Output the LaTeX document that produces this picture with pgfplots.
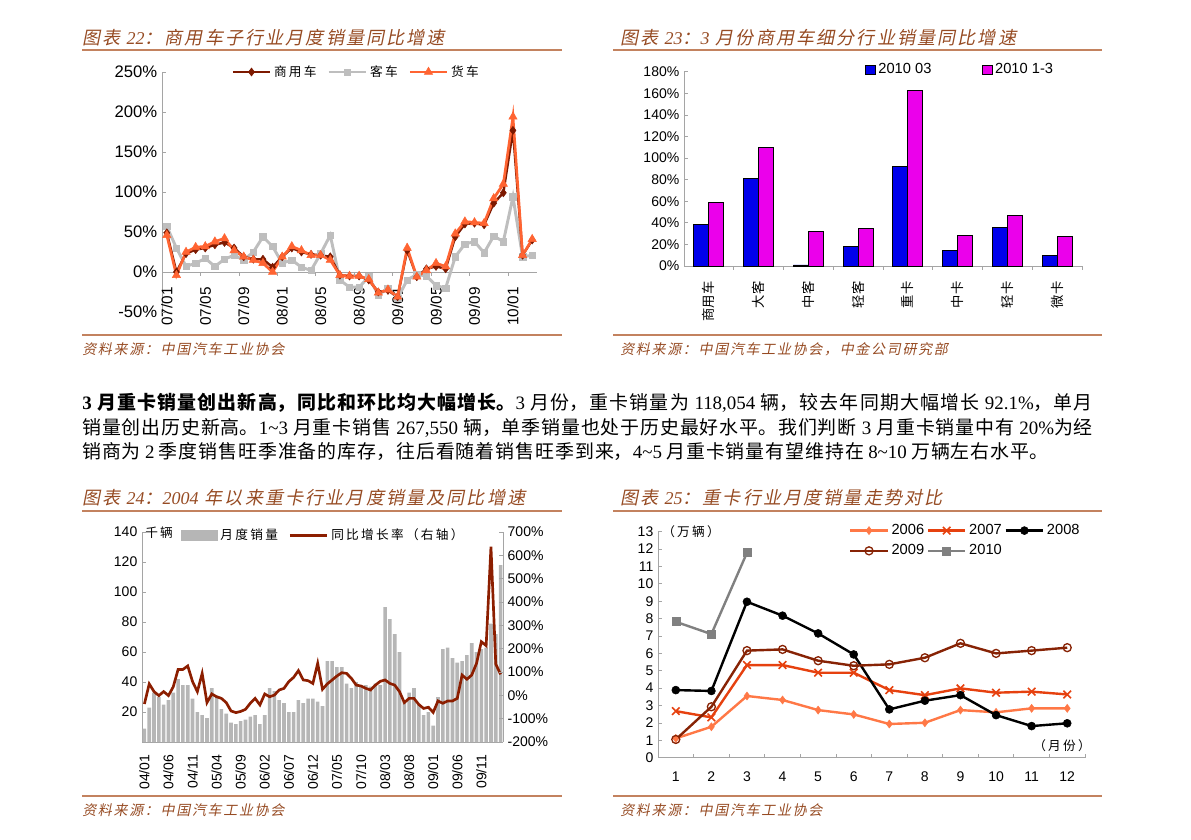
\documentclass[border=0pt]{standalone}
\usepackage{fontspec}
\usepackage{pgfplots}
\pgfplotsset{compat=1.18}
\setmainfont{Liberation Sans}
\newfontfamily\cjk{Noto Sans CJK SC}
\newfontfamily\cjks{Noto Sans CJK SC}[LetterSpace=18]
\newfontfamily\ttl{Noto Sans CJK SC}[FakeSlant=0.2,LetterSpace=12]
\newfontfamily\tnr{Liberation Serif}
\newcommand\tld{{\char"007E}}
\XeTeXlinebreaklocale "zh"
\XeTeXlinebreakskip=0pt plus 1.5pt
\definecolor{ttlc}{RGB}{150,75,35}
\definecolor{rulec}{RGB}{195,130,95}
\definecolor{axc}{RGB}{165,165,165}
\definecolor{c1dark}{RGB}{125,25,0}
\definecolor{c1gray}{RGB}{190,190,190}
\definecolor{c1orange}{RGB}{255,100,50}
\definecolor{c2blue}{RGB}{0,0,235}
\definecolor{c2mag}{RGB}{235,0,235}
\definecolor{c3bar}{RGB}{182,182,182}
\definecolor{c3line}{RGB}{140,30,0}
\definecolor{y2006}{RGB}{255,120,70}
\definecolor{y2007}{RGB}{230,65,15}
\definecolor{y2009}{RGB}{135,35,5}
\definecolor{y2010}{RGB}{128,128,128}
\pgfplotsset{
  base/.style={scale only axis, axis line style={draw=axc}, major tick length=0pt, clip=false,
    /pgf/number format/assume math mode=true},
  lineleg/.style={legend image code/.code={\draw[mark repeat=2,mark phase=2,##1] plot coordinates {(0pt,0pt) (14pt,0pt) (28pt,0pt)};}},
  sqleg/.style={legend image code/.code={\draw[##1] (0pt,-3.6pt) rectangle (7.2pt,3.6pt);}},
  plainleg/.style={legend image code/.code={\draw[##1] (0pt,0pt) -- (28pt,0pt);}},
  barleg/.style={legend image code/.code={\fill[c3bar] (0pt,-4pt) rectangle (27pt,4pt);}},
}
\tikzset{tk/.style={draw=axc,line width=0.6pt}}
\begin{document}
\begin{tikzpicture}[x=0.75pt,y=-0.75pt]
\useasboundingbox (0,0) rectangle (1191,839);
\coordinate (A1) at (162,312);
\coordinate (A2) at (684,266);
\coordinate (A3) at (142,742);
\coordinate (A4) at (658,757.7);
% ---------- titles, rules, sources ----------
\node[anchor=base west,inner sep=0,text=ttlc,font=\ttl\fontsize{13.5}{14}\selectfont] at (82,44) {图表 {\tnr\itshape 22}：商用车子行业月度销量同比增速};
\node[anchor=base west,inner sep=0,text=ttlc,font=\ttl\fontsize{13.5}{14}\selectfont] at (620,44) {图表 {\tnr\itshape 23}：{\tnr\itshape 3} 月份商用车细分行业销量同比增速};
\node[anchor=base west,inner sep=0,text=ttlc,font=\ttl\fontsize{13.5}{14}\selectfont] at (82,504) {图表 {\tnr\itshape 24}：{\tnr\itshape 2004} 年以来重卡行业月度销量及同比增速};
\node[anchor=base west,inner sep=0,text=ttlc,font=\ttl\fontsize{13.5}{14}\selectfont] at (620,504) {图表 {\tnr\itshape 25}：重卡行业月度销量走势对比};
\draw[rulec,line width=1.3pt] (82,50)--(562,50) (613,50)--(1102,50) (82,335)--(562,335) (613,335)--(1102,335);
\draw[rulec,line width=1.3pt] (82,511)--(562,511) (613,511)--(1102,511) (82,796)--(562,796) (613,796)--(1102,796);
\node[anchor=base west,inner sep=0,text=ttlc,font=\ttl\fontsize{10.5}{11}\selectfont] at (82,354) {资料来源：中国汽车工业协会};
\node[anchor=base west,inner sep=0,text=ttlc,font=\ttl\fontsize{10.5}{11}\selectfont] at (620,354) {资料来源：中国汽车工业协会，中金公司研究部};
\node[anchor=base west,inner sep=0,text=ttlc,font=\ttl\fontsize{10.5}{11}\selectfont] at (82,815) {资料来源：中国汽车工业协会};
\node[anchor=base west,inner sep=0,text=ttlc,font=\ttl\fontsize{10.5}{11}\selectfont] at (620,815) {资料来源：中国汽车工业协会};
% ---------- paragraph ----------
\node[anchor=north west,inner sep=0,text width=758pt,align=justify,font=\cjk\fontsize{14.2}{18.4}\selectfont] at (82,393) {%
{\bfseries{\tnr 3} 月重卡销量创出新高，同比和环比均大幅增长。}{\tnr 3} 月份，重卡销量为 {\tnr 118,054} 辆，较去年同期大幅增长 {\tnr 92.1\%}，单月\linebreak
销量创出历史新高。{\tnr 1\tld3} 月重卡销售 {\tnr 267,550} 辆，单季销量也处于历史最好水平。我们判断 {\tnr 3} 月重卡销量中有 {\tnr 20\%}为经\linebreak
\XeTeXlinebreakskip=0.7pt plus 1pt 销商为 {\tnr 2} 季度销售旺季准备的库存，往后看随着销售旺季到来，{\tnr 4\tld5} 月重卡销量有望维持在 {\tnr 8\tld10} 万辆左右水平。};
% ---------- chart 22 ----------
\begin{axis}[base, at={(A1)}, anchor=south west, width=281.25pt, height=180pt,
  xmin=-0.5, xmax=38.5, ymin=-50, ymax=250,
  axis y line*=left, axis x line=middle, x axis line style={-},
  ytick={-50,0,50,100,150,200,250}, yticklabels={-50\%,0\%,50\%,100\%,150\%,200\%,250\%},
  yticklabel style={font=\fontsize{12.5}{13}\selectfont},
  xtick={0,4,...,36}, xticklabels={07/01,07/05,07/09,08/01,08/05,08/09,09/01,09/05,09/09,10/01},
  xticklabel shift=8pt,
  xticklabel style={rotate=90, anchor=east, font=\fontsize{11.5}{12}\selectfont},
  lineleg, legend columns=-1,
  legend style={draw=none, fill=none, at={(axis description cs:0.185,1)}, anchor=west, inner sep=0pt,
    font=\cjks\fontsize{9.5}{10}\selectfont, /tikz/every even column/.append style={column sep=6pt}},
]
\addplot[c1gray, line width=2.2pt, mark=square*, mark size=2.4pt, mark options={solid,line width=0.4pt}, forget plot] coordinates {
(0,57)(1,30)(2,7)(3,11)(4,17)(5,7)(6,16)(7,21)(8,15)(9,25)(10,44)(11,32)(12,11)(13,15)(14,6)(15,2)(16,23)(17,46)(18,-10)(19,-19)(20,-19)(21,-6)(22,-29)(23,-20)(24,-33)(25,-10)(26,-3)(27,-5)(28,-17)(29,-20)(30,19)(31,35)(32,38)(33,24)(34,45)(35,38)(36,94)(37,19)(38,21)};
\addplot[c1dark, line width=1.8pt, mark=diamond*, mark size=3pt, mark options={solid,line width=0.4pt}, forget plot] coordinates {
(0,49)(1,0)(2,23)(3,28)(4,30)(5,34)(6,37)(7,30)(8,19)(9,16)(10,16)(11,6)(12,19)(13,30)(14,25)(15,22)(16,21)(17,19)(18,-4)(19,-5)(20,-5)(21,-10)(22,-25)(23,-23)(24,-31)(25,27)(26,-6)(27,4)(28,7)(29,4)(30,44)(31,60)(32,61)(33,59)(34,86)(35,99)(36,177)(37,21)(38,40)};
\addplot[c1orange, line width=2pt, mark=triangle*, mark size=3.6pt, mark options={solid,line width=0.4pt}, forget plot] coordinates {
(0,46)(1,-4)(2,25)(3,31)(4,32)(5,38)(6,42)(7,27)(8,19)(9,15)(10,11)(11,0)(12,19)(13,32)(14,27)(15,21)(16,21)(17,15)(18,-4)(19,-5)(20,-5)(21,-9)(22,-26)(23,-22)(24,-31)(25,30)(26,-6)(27,2)(28,11)(29,7)(30,48)(31,63)(32,62)(33,61)(34,92)(35,110)(36,194)(37,21)(38,41)};
\addlegendimage{c1dark, line width=1.8pt, mark=diamond*, mark size=3pt, mark options={solid,line width=0.4pt}}
\addlegendentry{商用车}
\addlegendimage{c1gray, line width=2.2pt, mark=square*, mark size=2.4pt, mark options={solid,line width=0.4pt}}
\addlegendentry{客车}
\addlegendimage{c1orange, line width=2pt, mark=triangle*, mark size=3.6pt, mark options={solid,line width=0.4pt}}
\addlegendentry{货车}
\pgfplotsinvokeforeach{-0.5,3.5,7.5,11.5,15.5,19.5,23.5,27.5,31.5,35.5}{\draw[tk] (axis cs:#1,0) -- ++(0pt,-3pt);}
\pgfplotsinvokeforeach{-50,0,50,100,150,200,250}{\draw[tk] (axis cs:-0.5,#1) -- ++(3pt,0pt);}
\end{axis}
% ---------- chart 23 ----------
\begin{axis}[base, at={(A2)}, anchor=south west, width=298.5pt, height=145.7pt,
  xmin=-0.5, xmax=7.5, ymin=0, ymax=180,
  axis y line*=left, axis x line*=bottom,
  ybar=0pt, bar width=11.25pt,
  xtick={0,...,7}, xticklabels={商用车,大客,中客,轻客,重卡,中卡,轻卡,微卡},
  xticklabel shift=8pt,
  xticklabel style={rotate=90, anchor=east, font=\cjk\fontsize{10}{10}\selectfont},
  ytick={0,20,...,180}, yticklabels={0\%,20\%,40\%,60\%,80\%,100\%,120\%,140\%,160\%,180\%},
  yticklabel style={font=\fontsize{10.5}{11}\selectfont},
  legend columns=-1,
  legend style={draw=none, fill=none, at={(axis description cs:0.455,1.01)}, anchor=west, inner sep=0pt,
    font=\fontsize{11}{11}\selectfont, /tikz/every even column/.append style={column sep=36pt}},
]
\addplot[fill=c2blue, draw=black, line width=0.6pt, sqleg] coordinates {(0,38.6)(1,80.9)(2,1)(3,18.5)(4,92.3)(5,14.8)(6,36.1)(7,9.9)};
\addlegendentry{2010 03}
\addplot[fill=c2mag, draw=black, line width=0.6pt, sqleg] coordinates {(0,58.6)(1,109.9)(2,32.4)(3,34.9)(4,162.3)(5,28.7)(6,47.2)(7,27.2)};
\addlegendentry{2010 1-3}
\pgfplotsinvokeforeach{0.5,1.5,2.5,3.5,4.5,5.5,6.5,7.5}{\draw[tk] (axis cs:#1,0) -- ++(0pt,-3pt);}
\pgfplotsinvokeforeach{0,20,40,60,80,100,120,140,160,180}{\draw[tk] (axis cs:-0.5,#1) -- ++(3pt,0pt);}
\end{axis}
% ---------- chart 24 ----------
\begin{axis}[base, at={(A3)}, anchor=south west, width=270.75pt, height=157.5pt,
  xmin=-0.5, xmax=74.5, ymin=0, ymax=140,
  axis y line*=left, axis x line*=bottom,
  ytick={20,40,...,140}, yticklabel style={font=\fontsize{10.5}{11}\selectfont},
  xtick={0,5,...,70}, xticklabels={04/01,04/06,04/11,05/04,05/09,06/02,06/07,06/12,07/05,07/10,08/03,08/08,09/01,09/06,09/11},
  xticklabel shift=6pt,
  xticklabel style={rotate=90, anchor=east, font=\fontsize{10.5}{11}\selectfont},
  ybar, bar width=2.7pt,
]
\addplot[fill=c3bar, draw=none] coordinates {
(0,9)(1,23)(2,33)(3,30)(4,25)(5,28)(6,33)(7,42)(8,38)(9,38)(10,29)(11,20)
(12,18)(13,16)(14,36)(15,31)(16,22)(17,19)(18,13)(19,12)(20,14)(21,15)(22,17)(23,18)
(24,12)(25,18)(26,36)(27,34)(28,28)(29,26)(30,20)(31,20)(32,28)(33,26)(34,29)(35,29)
(36,27)(37,24)(38,54)(39,54)(40,50)(41,50)(42,39)(43,36)(44,40)(45,38)(46,38)(47,37)
(48,39)(49,38)(50,90)(51,82)(52,72)(53,60)(54,28)(55,33)(56,36)(57,25)(58,18)(59,20)
(60,11)(61,30)(62,62)(63,63)(64,56)(65,53)(66,54)(67,58)(68,66)(69,60)(70,62)(71,63)
(72,79)(73,72)(74,118)};
\pgfplotsinvokeforeach{20,40,60,80,100,120,140}{\draw[tk] (axis cs:-0.5,#1) -- ++(3pt,0pt);}
\end{axis}
\begin{axis}[base, at={(A3)}, anchor=south west, width=270.75pt, height=157.5pt,
  xmin=-0.5, xmax=74.5, ymin=-200, ymax=700,
  axis y line*=right, axis x line=none,
  ytick={-200,-100,...,700}, yticklabels={-200\%,-100\%,0\%,100\%,200\%,300\%,400\%,500\%,600\%,700\%},
  yticklabel style={font=\fontsize{10.5}{11}\selectfont},
  legend columns=-1,
  legend style={draw=none, fill=none, at={(axis description cs:0.108,0.985)}, anchor=west, inner sep=0pt,
    font=\cjks\fontsize{9.5}{10}\selectfont, /tikz/every even column/.append style={column sep=6pt}},
]
\addlegendimage{barleg}
\addlegendentry{月度销量}
\addplot[c3line, line width=2pt, plainleg] coordinates {
(0,-37)(1,49)(2,16)(3,-1)(4,16)(5,-1)(6,37)(7,111)(8,111)(9,126)(10,59)(11,16)
(12,94)(13,-31)(14,6)(15,-6)(16,-13)(17,-31)(18,-67)(19,-74)(20,-69)(21,-60)(22,-34)(23,-13)
(24,-41)(25,6)(26,-6)(27,1)(28,23)(29,30)(30,59)(31,77)(32,106)(33,66)(34,63)(35,51)
(36,137)(37,26)(38,49)(39,66)(40,83)(41,97)(42,94)(43,73)(44,44)(45,40)(46,30)(47,23)
(48,44)(49,60)(50,66)(51,51)(52,44)(53,16)(54,-31)(55,-13)(56,-13)(57,-39)(58,-56)(59,-51)
(60,-73)(61,-24)(62,-34)(63,-24)(64,-24)(65,-13)(66,87)(67,69)(68,87)(69,137)(70,230)(71,213)
(72,637)(73,134)(74,90)};
\addlegendentry{同比增长率（右轴）}
\pgfplotsinvokeforeach{-100,0,100,200,300,400,500,600,700}{\draw[tk] (axis cs:74.5,#1) -- ++(-3pt,0pt);}
\end{axis}
\node[anchor=west,inner sep=0,font=\cjks\fontsize{9.5}{10}\selectfont] at (145,533) {千辆};
% ---------- chart 25 ----------
\begin{axis}[base, at={(A4)}, anchor=south west, width=320.25pt, height=169.5pt,
  xmin=0.5, xmax=12.5, ymin=0, ymax=13,
  axis y line*=left, axis x line*=bottom,
  xtick={1,...,12}, xticklabel shift=7pt,
  ytick={0,1,...,13},
  ticklabel style={font=\fontsize{10.5}{11}\selectfont},
  lineleg, legend columns=3,
  legend style={draw=none, fill=none, at={(axis description cs:0.447,1.045)}, anchor=north west, inner sep=0pt,
    font=\fontsize{11}{11}\selectfont, row sep=2pt},
  every axis plot/.append style={line width=1.8pt, mark options={solid}},
]
\addplot[y2006, mark=diamond*, mark size=3pt, mark options={line width=0.4pt}] coordinates {(1,1.11)(2,1.78)(3,3.55)(4,3.32)(5,2.74)(6,2.49)(7,1.94)(8,2.01)(9,2.74)(10,2.61)(11,2.84)(12,2.84)};
\addlegendentry{2006}
\addplot[y2007, mark=x, mark size=4pt, mark options={line width=1.2pt}] coordinates {(1,2.68)(2,2.32)(3,5.33)(4,5.33)(5,4.89)(6,4.89)(7,3.89)(8,3.6)(9,3.99)(10,3.74)(11,3.8)(12,3.64)};
\addlegendentry{2007}
\addplot[black, mark=*, mark size=3pt, mark options={line width=0.4pt}] coordinates {(1,3.89)(2,3.84)(3,8.97)(4,8.17)(5,7.15)(6,5.94)(7,2.78)(8,3.28)(9,3.6)(10,2.45)(11,1.82)(12,1.98)};
\addlegendentry{2008}
\addplot[y2009, mark=o, mark size=3pt, mark options={fill=white,line width=1pt}] coordinates {(1,1.05)(2,2.93)(3,6.16)(4,6.23)(5,5.58)(6,5.29)(7,5.37)(8,5.75)(9,6.58)(10,6.0)(11,6.16)(12,6.33)};
\addlegendentry{2009}
\addplot[y2010, mark=square*, mark size=3pt, mark options={line width=0.4pt}] coordinates {(1,7.82)(2,7.11)(3,11.79)};
\addlegendentry{2010}
\pgfplotsinvokeforeach{1.5,2.5,3.5,4.5,5.5,6.5,7.5,8.5,9.5,10.5,11.5,12.5}{\draw[tk] (axis cs:#1,0) -- ++(0pt,3pt);}
\pgfplotsinvokeforeach{1,2,3,4,5,6,7,8,9,10,11,12,13}{\draw[tk] (axis cs:0.5,#1) -- ++(3pt,0pt);}
\end{axis}
\node[anchor=west,inner sep=0,font=\cjks\fontsize{9.5}{10}\selectfont] at (662,532) {（万辆）};
\node[anchor=west,inner sep=0,font=\cjks\fontsize{9.5}{10}\selectfont] at (1033,746) {（月份）};
\end{tikzpicture}
\end{document}
